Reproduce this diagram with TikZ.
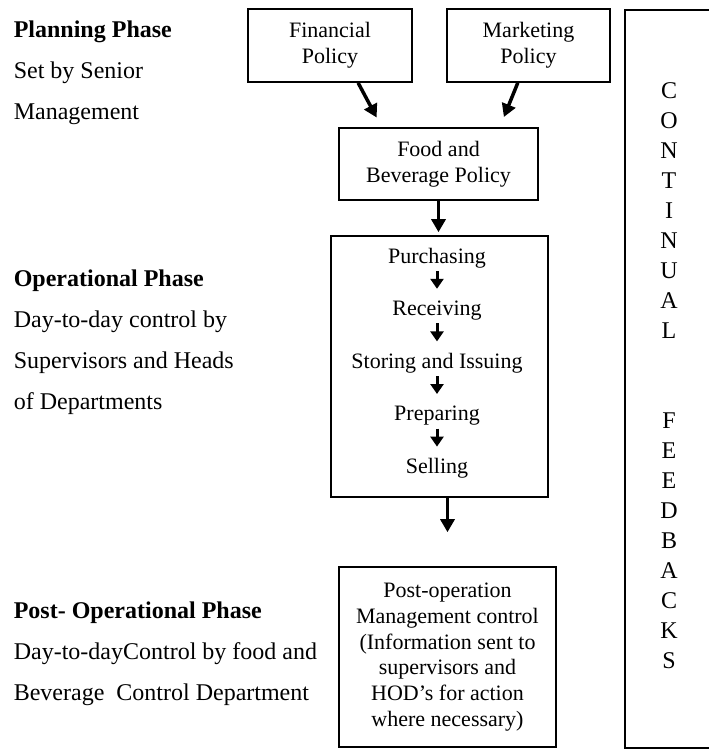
\documentclass[tikz,border=0pt]{standalone}
\usepackage{fontspec}
\setmainfont{Liberation Serif}
\usepackage{tikz}
\usetikzlibrary{chains,positioning,arrows.meta}

\begin{document}
\begin{tikzpicture}[x=1pt,y=-1pt]
	\tikzstyle{every path}=[line width=1.6pt]
	
	\edef\boxfont{\noexpand\fontsize{22}{26}\noexpand\selectfont}
	\tikzstyle{policy}=[draw,align=center,inner sep=0pt,font=\boxfont]
	\tikzstyle{phase}=[anchor=north west,align=left,inner sep=0pt,font=\fontsize{24}{41}\selectfont]
	\tikzstyle{stage}=[inner sep=0pt,text height=16pt,text depth=5pt,font=\boxfont]
	\tikzstyle{bigarrow}=[line width=3.5pt,-{Triangle[width=14pt,length=13pt]}]
	\tikzstyle{smallarrow}=[line width=3pt,-{Triangle[width=13pt,length=10pt]},shorten <=2pt,shorten >=10pt]
	
	\useasboundingbox (0,0) rectangle (709,750);
	
	%% Phases on the left
	\node [phase] (planning) at (13,19.6) {\textbf{Planning Phase}\\Set by Senior\\Management};
	\node [phase] (operational) at (13,268.6) {\textbf{Operational Phase}\\Day-to-day control by\\Supervisors and Heads\\of Departments};
	\node [phase] (postphase) at (13,600.6) {\textbf{Post- Operational Phase}\\Day-to-dayControl by food and\\Beverage\ \ Control Department};
	
	%% Policy boxes
	\node [policy,minimum width=164pt,minimum height=73pt] (fin) at (330,45.5) {Financial\\Policy};
	\node [policy,minimum width=163pt,minimum height=73pt] (mkt) at (528.5,45.5) {Marketing\\Policy};
	\node [policy,minimum width=199pt,minimum height=72pt] (fbp) at (438.5,164) {Food and\\Beverage Policy};
	
	%% Operations box
	\node [draw,minimum width=217pt,minimum height=261pt] (ops) at (439.5,366.5) {};
	\begin{scope}[start chain=ops going below,node distance=30pt]
	\node [on chain=ops,stage] (purchasing) at (437,257.5) {Purchasing};
	\node [on chain=ops,stage] (receiving) {Receiving};
	\node [on chain=ops,stage] (storing) {Storing and Issuing};
	\node [on chain=ops,stage] (preparing) {Preparing};
	\node [on chain=ops,stage] (selling) {Selling};
	\end{scope}
	
	%% Post-operation box
	\node [policy,minimum width=217pt,minimum height=180pt,font=\fontsize{22}{25.8}\selectfont] (post) at (447.5,657)
	{Post-operation\\Management control\\(Information sent to\\supervisors and\\HOD's for action\\where necessary)};
	
	%% Feedback column, cut by the right margin
	\node [draw,minimum width=110pt,minimum height=738pt] (feedback) at (680,379) {};
	\node [align=center,inner sep=0pt,font=\fontsize{24}{30}\selectfont] (letters) at (669,376)
	{C\\O\\N\\T\\I\\N\\U\\A\\L\\[60pt]F\\E\\E\\D\\B\\A\\C\\K\\S};
	
	%% Arrows
	\draw [bigarrow,shorten >=11pt] (fin.-53.5) -- (fbp.147.8);
	\draw [bigarrow,shorten >=11pt] (mkt.-106) -- (fbp.31.4);
	\draw [bigarrow,shorten >=3pt] (fbp.south) -- (fbp.south |- ops.north);
	\draw [bigarrow,shorten >=34pt] (ops.south -| post.north) -- (post.north);
	
	\draw [smallarrow] (purchasing) -- (receiving);
	\draw [smallarrow] (receiving) -- (storing);
	\draw [smallarrow] (storing) -- (preparing);
	\draw [smallarrow] (preparing) -- (selling);
	
\end{tikzpicture}
\end{document}
